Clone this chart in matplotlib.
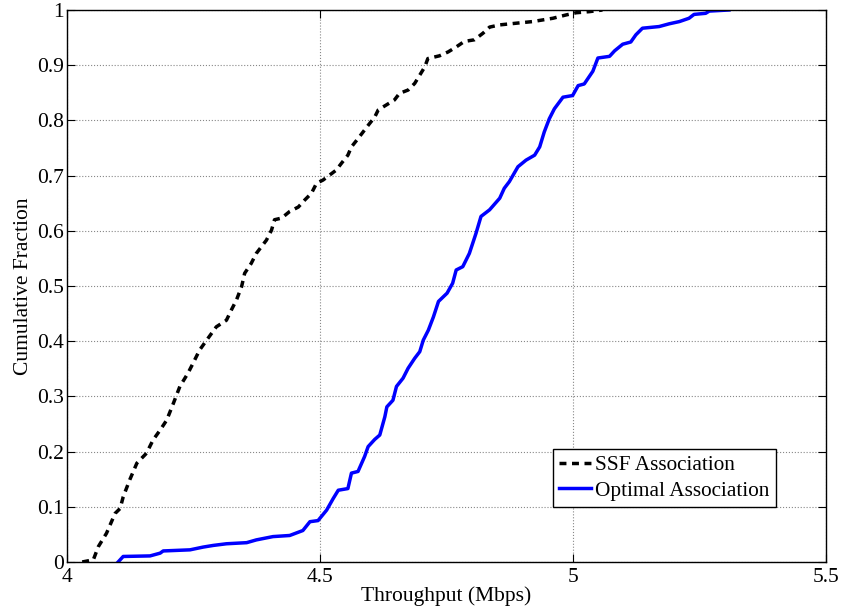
import matplotlib
matplotlib.use("Agg")
import matplotlib.pyplot as plt

# SSF association CDF
ssf_x = [4.030, 4.052, 4.062, 4.078, 4.095, 4.105, 4.111, 4.124, 4.138, 4.157,
         4.170, 4.184, 4.197, 4.210, 4.223, 4.239, 4.249, 4.262, 4.276, 4.295,
         4.315, 4.325, 4.335, 4.345, 4.351, 4.364, 4.374, 4.384, 4.394, 4.404,
         4.410, 4.424, 4.440, 4.457, 4.470, 4.483, 4.493, 4.506, 4.519, 4.532,
         4.542, 4.555, 4.562, 4.575, 4.585, 4.595, 4.608, 4.615, 4.631, 4.647,
         4.657, 4.674, 4.687, 4.697, 4.707, 4.713, 4.736, 4.753, 4.769, 4.785,
         4.805, 4.822, 4.835, 4.855, 4.887, 4.920, 4.960, 4.986, 5.006, 5.032,
         5.058]
ssf_y = [0.000, 0.004, 0.028, 0.052, 0.088, 0.097, 0.118, 0.149, 0.179, 0.197,
         0.221, 0.239, 0.257, 0.287, 0.318, 0.342, 0.360, 0.384, 0.402, 0.426,
         0.438, 0.457, 0.475, 0.499, 0.523, 0.541, 0.559, 0.571, 0.583, 0.601,
         0.620, 0.623, 0.635, 0.643, 0.656, 0.668, 0.686, 0.692, 0.701, 0.710,
         0.722, 0.737, 0.752, 0.767, 0.779, 0.791, 0.806, 0.819, 0.828, 0.837,
         0.849, 0.855, 0.867, 0.882, 0.897, 0.912, 0.917, 0.924, 0.933, 0.943,
         0.946, 0.958, 0.969, 0.973, 0.976, 0.979, 0.985, 0.991, 0.995, 0.997,
         1.000]

# Optimal association CDF
opt_x = [4.101, 4.111, 4.164, 4.184, 4.190, 4.243, 4.269, 4.289, 4.315, 4.355,
         4.374, 4.407, 4.440, 4.466, 4.480, 4.496, 4.513, 4.526, 4.536, 4.555,
         4.562, 4.575, 4.588, 4.595, 4.608, 4.618, 4.628, 4.632, 4.644, 4.651,
         4.664, 4.674, 4.687, 4.697, 4.704, 4.714, 4.724, 4.734, 4.751, 4.762,
         4.769, 4.782, 4.795, 4.808, 4.818, 4.835, 4.855, 4.864, 4.874, 4.891,
         4.907, 4.924, 4.934, 4.943, 4.953, 4.963, 4.980, 4.999, 5.010, 5.022,
         5.039, 5.049, 5.072, 5.082, 5.098, 5.114, 5.124, 5.137, 5.170, 5.190,
         5.210, 5.229, 5.239, 5.262, 5.269, 5.308]
opt_y = [0.000, 0.010, 0.011, 0.016, 0.020, 0.022, 0.027, 0.030, 0.033, 0.035,
         0.040, 0.046, 0.048, 0.057, 0.073, 0.075, 0.094, 0.115, 0.130, 0.133,
         0.161, 0.164, 0.191, 0.209, 0.222, 0.230, 0.263, 0.281, 0.293, 0.318,
         0.333, 0.351, 0.369, 0.381, 0.402, 0.420, 0.444, 0.472, 0.487, 0.505,
         0.529, 0.535, 0.559, 0.595, 0.626, 0.638, 0.659, 0.677, 0.689, 0.716,
         0.728, 0.737, 0.752, 0.779, 0.803, 0.821, 0.842, 0.845, 0.863, 0.866,
         0.889, 0.913, 0.916, 0.926, 0.938, 0.942, 0.955, 0.967, 0.970, 0.975,
         0.979, 0.985, 0.992, 0.994, 0.998, 1.000]

x_ticks = [4, 4.5, 5, 5.5]
x_tick_labels = ["4", "4.5", "5", "5.5"]
y_ticks = [0, 0.1, 0.2, 0.3, 0.4, 0.5, 0.6, 0.7, 0.8, 0.9, 1]
y_tick_labels = ["0", "0.1", "0.2", "0.3", "0.4", "0.5", "0.6", "0.7", "0.8", "0.9", "1"]

plt.rcParams["font.family"] = ["Liberation Serif", "DejaVu Serif"]

fig = plt.figure(figsize=(8.43, 6.09), dpi=100)
ax = fig.add_axes([0.0795, 0.0772, 0.9005, 0.9064])

ax.plot(ssf_x, ssf_y, color="black", linewidth=2.5, linestyle=(0, (2.0, 1.6)),
        label="SSF Association")
ax.plot(opt_x, opt_y, color="#0000ff", linewidth=2.5, linestyle="-",
        label="Optimal Association")

ax.set_xlim(4, 5.5)
ax.set_ylim(0, 1)
ax.set_xticks(x_ticks)
ax.set_xticklabels(x_tick_labels)
ax.set_yticks(y_ticks)
ax.set_yticklabels(y_tick_labels)
ax.tick_params(direction="in", top=True, right=True, labelsize=15.5, length=6, width=0.8)
ax.tick_params(axis="x", pad=4)
ax.tick_params(axis="y", pad=2)

ax.grid(True, linestyle=":", color="#888888", linewidth=0.8)
for sp in ax.spines.values():
    sp.set_linewidth(1.0)

ax.set_xlabel("Throughput (Mbps)", fontsize=15.5, labelpad=0)
ax.set_ylabel("Cumulative Fraction", fontsize=15.5, labelpad=3)

leg = ax.legend(loc="lower left", bbox_to_anchor=(0.640, 0.0996), fontsize=15.3,
                handlelength=1.5, handletextpad=0.2, borderpad=0.3, labelspacing=0.25,
                borderaxespad=0.0, fancybox=False, framealpha=1.0, edgecolor="black")
leg.get_frame().set_linewidth(1.0)

fig.savefig("out.png", dpi=100)
